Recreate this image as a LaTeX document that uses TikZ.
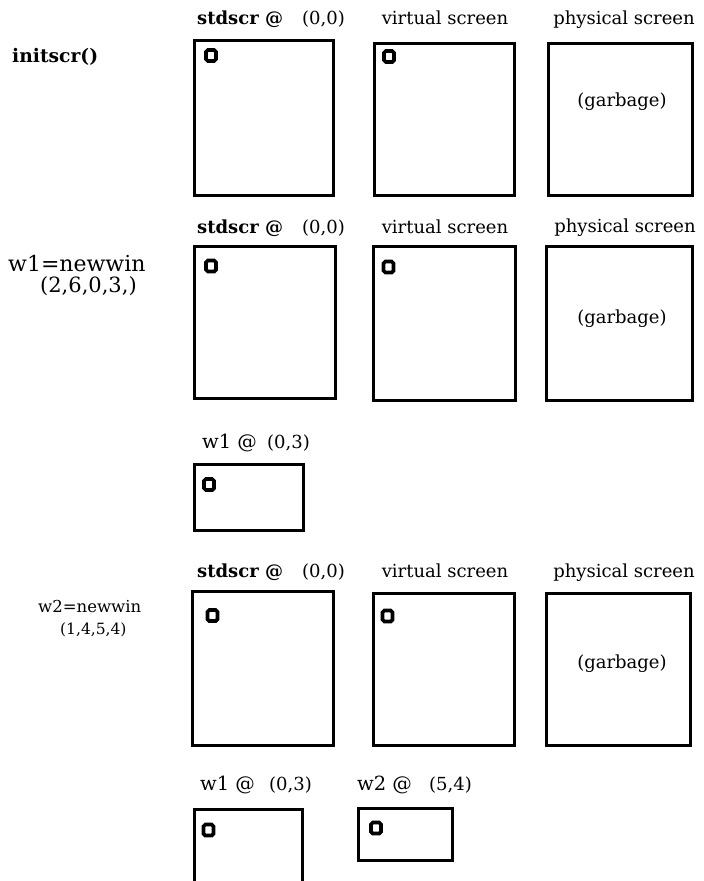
\documentclass[tikz,border=0pt]{standalone}
\usepackage{fontspec}
\setmainfont{DejaVu Serif}
\begin{document}
\begin{tikzpicture}[x=1pt,y=-1pt,
  lbl/.style={inner sep=0pt,font=\fontsize{18}{21}\selectfont,anchor=base west},
  lblb/.style={lbl,font=\fontsize{18}{21}\selectfont\bfseries},
  wlbl/.style={lbl,font=\fontsize{19.5}{22}\selectfont},
  cmdbig/.style={lbl,font=\fontsize{22}{25}\selectfont},
  cmdsmall/.style={lbl,font=\fontsize{16.5}{19}\selectfont},
  scr/.style={draw,line width=3pt,rectangle,inner sep=0pt},
  cur/.style={draw,line width=3.6pt,rectangle,rounded corners=1.8pt,inner sep=0pt,minimum width=10pt,minimum height=11pt}]
\useasboundingbox (0,0) rectangle (704,881);
\clip (0,0) rectangle (704,881);
% ---------- row 1 ----------
\node[lblb,font=\fontsize{18.7}{21}\selectfont\bfseries] (init) at (12,62) {initscr()};
\node[lblb] (s1a) at (197,24) {stdscr @};
\node[lbl,anchor=base east] (s1b) at (345,24) {(0,0)};
\node[lbl,anchor=base] (v1l) at (445,24) {virtual screen};
\node[lbl,anchor=base] (p1l) at (624,24) {physical screen};
\node[scr,minimum width=139pt,minimum height=155pt] (s1) at (264,118) {};
\node[scr,minimum width=140pt,minimum height=152pt] (v1) at (444.5,119.5) {};
\node[scr,minimum width=144pt,minimum height=152pt] (p1) at (620.5,119.5) {};
\node[lbl,anchor=base] (g1) at (622,106) {(garbage)};
\node[cur] (c1s) at (211,55.5) {};
\node[cur] (c1v) at (389,56.5) {};
% ---------- row 2 ----------
\node[cmdbig] (nw1a) at (8,271) {w1=newwin};
\node[cmdbig,font=\fontsize{21}{24}\selectfont] (nw1b) at (40,292) {(2,6,0,3,)};
\node[lblb] (s2a) at (197,233) {stdscr @};
\node[lbl,anchor=base east] (s2b) at (345,233) {(0,0)};
\node[lbl,anchor=base] (v2l) at (445,233) {virtual screen};
\node[lbl,anchor=base] (p2l) at (625,232) {physical screen};
\node[scr,minimum width=141pt,minimum height=152pt] (s2) at (265,322.5) {};
\node[scr,minimum width=142pt,minimum height=154pt] (v2) at (444.5,323.5) {};
\node[scr,minimum width=146pt,minimum height=154pt] (p2) at (619.5,323.5) {};
\node[lbl,anchor=base] (g2) at (622,323) {(garbage)};
\node[cur] (c2s) at (211,266) {};
\node[cur] (c2v) at (388.5,267) {};
\node[wlbl] (w1a) at (202,448) {w1 @};
\node[lbl,anchor=base east] (w1b) at (310,448) {(0,3)};
\node[scr,minimum width=109pt,minimum height=66pt] (w1) at (249,497.5) {};
\node[cur] (c2w) at (209,484.5) {};
% ---------- row 3 ----------
\node[cmdsmall] (nw2a) at (38,612) {w2=newwin};
\node[cmdsmall,font=\fontsize{15.5}{18}\selectfont] (nw2b) at (60,634) {(1,4,5,4)};
\node[lblb] (s3a) at (197,577) {stdscr @};
\node[lbl,anchor=base east] (s3b) at (345,577) {(0,0)};
\node[lbl,anchor=base] (v3l) at (445,577) {virtual screen};
\node[lbl,anchor=base] (p3l) at (624,577) {physical screen};
\node[scr,minimum width=141pt,minimum height=154pt] (s3) at (263,668.5) {};
\node[scr,minimum width=141pt,minimum height=152pt] (v3) at (444,669.5) {};
\node[scr,minimum width=144pt,minimum height=152pt] (p3) at (618.5,669.5) {};
\node[lbl,anchor=base] (g3) at (622,668) {(garbage)};
\node[cur] (c3s) at (212.5,615.5) {};
\node[cur] (c3v) at (387.5,616) {};
\node[wlbl] (w1c) at (200,790) {w1 @};
\node[lbl,anchor=base east] (w1d) at (312,790) {(0,3)};
\node[wlbl] (w2a) at (357,790) {w2 @};
\node[lbl,anchor=base east] (w2b) at (472,790) {(5,4)};
\node[scr,minimum width=108pt,minimum height=92pt] (w1r3) at (248.5,855.5) {};
\node[scr,minimum width=94pt,minimum height=52pt] (w2) at (405.5,834.5) {};
\node[cur] (c3w1) at (208.5,830) {};
\node[cur] (c3w2) at (376,828) {};
\end{tikzpicture}
\end{document}
